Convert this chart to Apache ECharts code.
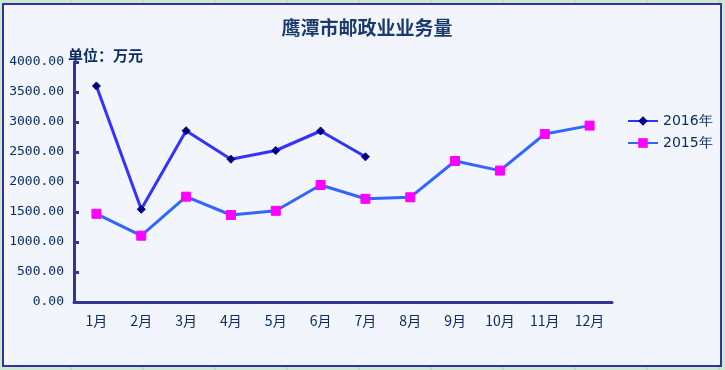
<!DOCTYPE html>
<html><head><meta charset="utf-8">
<script src="https://cdn.jsdelivr.net/npm/echarts@6/dist/echarts.min.js"></script>
<style>html,body{margin:0;padding:0;background:#CCE8CF;}#c{width:725px;height:370px;}</style>
</head><body><div id="c"></div>
<script>
const categories = ['1月','2月','3月','4月','5月','6月','7月','8月','9月','10月','11月','12月'];
const s2016 = [3600, 1545, 2855, 2380, 2525, 2850, 2420, null, null, null, null, null];
const s2015 = [1470, 1105, 1755, 1450, 1520, 1950, 1720, 1745, 2350, 2190, 2800, 2940];
const yTicks = {min: 0, max: 4000, interval: 500};

const navy = '#0B2D63';
const chart = echarts.init(document.getElementById('c'));
const gridLines = [];
[71,143,215,287,359,431,503,575,647,719].forEach(x=>{
  gridLines.push({type:'line',shape:{x1:x,y1:0,x2:x,y2:4},style:{stroke:'#B8C8B8',lineWidth:1},z:-1});
  gridLines.push({type:'line',shape:{x1:x,y1:366,x2:x,y2:370},style:{stroke:'#B8C8B8',lineWidth:1},z:-1});
});
chart.setOption({
  backgroundColor: '#CCE8CF',
  animation: false,
  title: {
    text: '鹰潭市邮政业业务量', left: 362, top: 13, textAlign: 'center',
    textStyle: {fontFamily: 'Noto Sans CJK SC', fontSize: 19, fontWeight: 'bold', color: '#1A3A6E'}
  },
  graphic: gridLines.concat([
    {type:'rect', shape:{x:3,y:4,width:718,height:362}, style:{fill:'#F2F6FC', stroke:'#333399', lineWidth:2}, z:-1},
    {type:'text', left: 68, top: 48, style:{text:'单位：万元', font:'bold 15px "Noto Sans CJK SC"', fill: navy}}
  ]),
  legend: {
    orient: 'vertical', left: 622, top: 109, itemGap: 8, itemWidth: 30, itemHeight: 12,
    textStyle: {fontFamily: 'DejaVu Sans', fontSize: 14, color: navy},
    data: ['2016年','2015年']
  },
  grid: {left: 74, right: 113, top: 62, bottom: 68, containLabel: false},
  xAxis: {
    type: 'category', data: categories,
    axisLine: {lineStyle: {color: '#333399', width: 3}},
    axisTick: {inside: true, length: 5, lineStyle: {color: '#333399', width: 3}},
    axisLabel: {margin: 12, fontFamily: 'Noto Sans CJK SC', fontSize: 14, color: navy}
  },
  yAxis: {
    type: 'value', min: yTicks.min, max: yTicks.max, interval: yTicks.interval,
    splitLine: {show: false},
    axisLine: {show: true, lineStyle: {color: '#333399', width: 3}},
    axisTick: {show: true, inside: true, length: 5, lineStyle: {color: '#333399', width: 3}},
    axisLabel: {margin: 10, fontFamily: 'DejaVu Sans Mono', fontSize: 13, color: navy, formatter: v => v.toFixed(2)}
  },
  series: [
    {name: '2016年', type: 'line', data: s2016, connectNulls: false,
     symbol: 'diamond', symbolSize: 8,
     lineStyle: {color: '#3333FF', width: 3},
     itemStyle: {color: '#000080', borderColor: '#000080'}},
    {name: '2015年', type: 'line', data: s2015,
     symbol: 'rect', symbolSize: 9,
     lineStyle: {color: '#3366FF', width: 3},
     itemStyle: {color: '#FF00FF', borderColor: '#FF00FF'}}
  ]
});
</script></body></html>
